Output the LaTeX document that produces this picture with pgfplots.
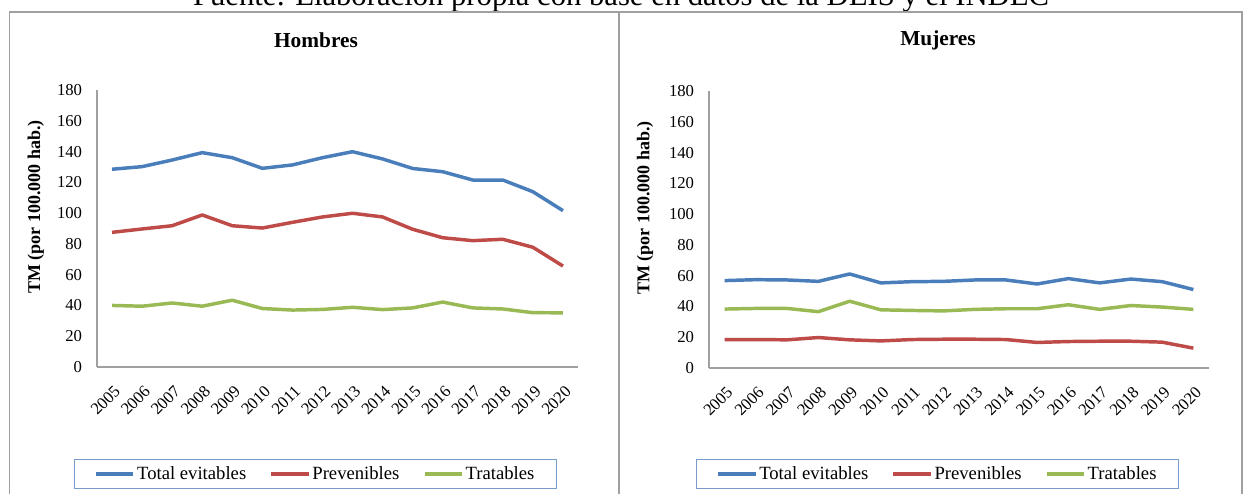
\documentclass[border=0pt]{standalone}
\usepackage{pgfplots}
\usepackage{pgfplotstable}
\pgfplotsset{compat=1.18}
\usepackage{fontspec}
\setmainfont{Liberation Serif}
\definecolor{cblue}{HTML}{4A7EBB}
\definecolor{cred}{HTML}{BE4B48}
\definecolor{cgreen}{HTML}{98B954}
\definecolor{cgrid}{RGB}{160,160,160}
\definecolor{clegbox}{RGB}{120,155,205}

\pgfplotstableread{
x total prev trat
0 128.5 87.5 40.0
1 130.2 89.7 39.5
2 134.5 91.8 41.6
3 139.3 98.8 39.5
4 136.0 91.8 43.4
5 129.1 90.3 38.0
6 131.3 94.0 37.0
7 136.0 97.5 37.4
8 139.9 99.9 38.8
9 135.2 97.5 37.3
10 129.0 89.5 38.4
11 126.9 84.0 42.2
12 121.5 82.1 38.4
13 121.5 83.0 37.7
14 113.9 77.8 35.3
15 101.6 65.6 35.2
}\hombres

\pgfplotstableread{
x total prev trat
0 56.8 18.5 38.3
1 57.4 18.5 38.7
2 57.2 18.3 38.7
3 56.3 19.8 36.6
4 61.1 18.3 43.4
5 55.3 17.6 37.8
6 56.1 18.5 37.4
7 56.3 18.7 37.1
8 57.2 18.7 38.1
9 57.2 18.5 38.5
10 54.6 16.6 38.5
11 58.1 17.2 41.1
12 55.3 17.4 38.1
13 57.8 17.4 40.6
14 56.1 16.8 39.6
15 51.0 12.9 38.1
}\mujeres

\pgfplotsset{
  panel/.style={
    scale only axis,
    anchor=south west,
    ymin=0, ymax=180,
    ytick={0,20,...,180},
    xmin=-0.5, xmax=15.5,
    xtick={0,...,15},
    xticklabels={2005,2006,2007,2008,2009,2010,2011,2012,2013,2014,2015,2016,2017,2018,2019,2020},
    axis x line=bottom, axis y line=left,
    axis line style={cgrid, line width=0.8pt, -},
    major tick length=0pt,
    /pgf/number format/assume math mode=true,
    /pgf/number format/1000 sep={},
    tick label style={font=\fontsize{12.5}{14}\selectfont},
    yticklabel style={inner sep=0pt, xshift=-11pt},
    xticklabel style={inner sep=0pt, xshift=4pt, yshift=-16pt, rotate=45, anchor=east},
    ylabel={\textbf{TM (por 100.000 hab.)}},
    ylabel style={font=\fontsize{13.5}{15}\selectfont, anchor=center},
    clip=false,
    legend columns=3,
    legend cell align=left,
    legend image code/.code={\draw[line width=2.6pt] (0pt,0pt) -- (28pt,0pt);},
    legend style={draw=clegbox, line width=0.8pt, anchor=center,
      font=\fontsize{14}{16}\selectfont, inner xsep=15pt, inner ysep=3pt,
      /tikz/every even column/.append style={column sep=16pt},
      nodes={inner xsep=1.5pt}},
    every axis plot/.append style={line width=2.6pt, line join=round, mark=none},
  }
}

\begin{document}
\begin{tikzpicture}[x=0.75pt, y=0.75pt]
\useasboundingbox (0,0) rectangle (1243,493);
\clip (0,0) rectangle (1243,493);
\node[anchor=base, font=\fontsize{23}{26}\selectfont] at (621,487) {Fuente: Elaboración propia con base en datos de la DEIS y el INDEC};
\draw[cgrid, line width=1pt] (9.5,-20) -- (9.5,481) -- (1242,481) -- (1242,-20);
\draw[cgrid, line width=1pt] (619,481) -- (619,-20);
\node[font=\fontsize{16}{18}\selectfont\bfseries] at (316,453) {Hombres};
\node[font=\fontsize{16}{18}\selectfont\bfseries] at (938,453) {Mujeres};

\begin{axis}[panel, at={(72.75pt,94.5pt)}, width=360.75pt, height=207.75pt,
  ylabel style={at={(axis description cs:-0.127,0.578)}},
  legend style={at={(axis description cs:0.454,-0.386)}}]
\addplot[cblue] table[x=x,y=total] {\hombres};
\addlegendentry{Total evitables}
\addplot[cred] table[x=x,y=prev] {\hombres};
\addlegendentry{Prevenibles}
\addplot[cgreen] table[x=x,y=trat] {\hombres};
\addlegendentry{Tratables}
\end{axis}

\begin{axis}[panel, at={(531.75pt,93.75pt)}, width=375pt, height=207.75pt,
  ylabel style={at={(axis description cs:-0.128,0.578)}},
  legend style={at={(axis description cs:0.457,-0.383)}}]
\addplot[cblue] table[x=x,y=total] {\mujeres};
\addlegendentry{Total evitables}
\addplot[cred] table[x=x,y=prev] {\mujeres};
\addlegendentry{Prevenibles}
\addplot[cgreen] table[x=x,y=trat] {\mujeres};
\addlegendentry{Tratables}
\end{axis}
\end{tikzpicture}
\end{document}
